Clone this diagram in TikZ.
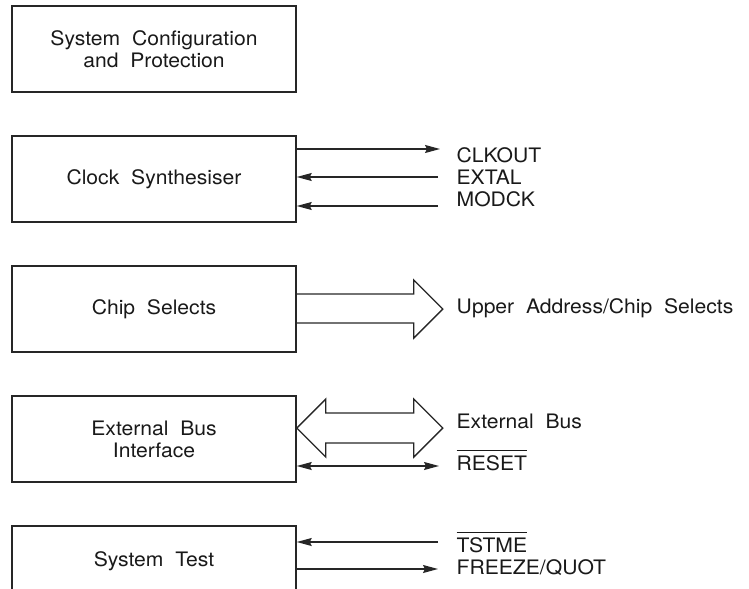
\documentclass[tikz,border=0pt]{standalone}
\usepackage{fontspec}
\setmainfont{TeX Gyre Heros}[WordSpace=2, FakeStretch=1.06]
\usetikzlibrary{arrows.meta}
\usetikzlibrary{positioning,calc}
\tikzset{
	node distance=42.5bp,
	every path/.style = {line width=1.3bp, color=black!85},
	block/.style = {draw, line width=1.5bp, minimum width=284bp, minimum height=86bp,
		align=center, inner sep=0pt, text=black!90, font=\fontsize{20}{22}\selectfont},
	sigtext/.style = {anchor=base west, inner sep=0pt, text=black!90, font=\fontsize{20}{22}\selectfont},
	sig/.style = {-{Stealth[length=15bp,width=8bp,inset=2bp]}},
	sigboth/.style = {{Stealth[length=15bp,width=8bp,inset=2bp]}-{Stealth[length=15bp,width=8bp,inset=2bp]}},
	bus/.style = {line width=1.4bp, line join=miter}
}
\newcommand{\lowact}[1]{$\overline{\rule{0pt}{18.5bp}\mbox{#1}}$}

\begin{document}
\begin{tikzpicture}[x=1bp, y=-1bp]
	\useasboundingbox (0,0) rectangle (749,589);
	% blocks
	\node[block] (config) at (154,49) {System Configuration\\and Protection};
	\node[block, below=of config] (clock) {Clock Synthesiser};
	\node[block, below=of clock] (chipsel) {Chip Selects};
	\node[block, below=of chipsel] (extbus) {External Bus\\Interface};
	\node[block, below=of extbus, text depth=20bp] (systest) {System Test};
	% clock signals
	\coordinate (clkout-end) at (440,149);
	\coordinate (extal-end) at (438,177);
	\coordinate (modck-end) at (438,206);
	\draw[sig] (clkout-end -| clock.east) -- (clkout-end);
	\draw[sig] (extal-end) -- (extal-end -| clock.east);
	\draw[sig] (modck-end) -- (modck-end -| clock.east);
	\node[sigtext] (clkout) at (456,163) {CLKOUT};
	\node[sigtext] (extal) at (456,185) {EXTAL};
	\node[sigtext] (modck) at (456,207) {MODCK};
	% chip selects
	\draw[bus] ($(chipsel.east)+(0,-15)$) -- ++(117,0) -- ++(0,-14)
		-- ($(chipsel.east)+(146,0)$) -- ++(-29,29) -- ++(0,-15)
		-- ($(chipsel.east)+(0,14)$);
	\node[sigtext] (uppaddr) at (456,313) {Upper Address/Chip Selects};
	% external bus
	\coordinate (bus-tip) at ($(extbus.east)+(0,-11)$);
	\draw[bus] (bus-tip) -- ++(29,-29) -- ++(0,14) -- ++(88,0) -- ++(0,-14)
		-- ++(29,29) -- ++(-29,29) -- ++(0,-14) -- ++(-88,0) -- ++(0,14) -- cycle;
	\node[sigtext] (busname) at (456,428) {External Bus};
	\coordinate (reset-end) at (439,466);
	\draw[sigboth] (reset-end -| extbus.east) -- (reset-end);
	\node[sigtext] (reset) at (456,470) {\lowact{RESET}};
	% system test
	\coordinate (tstme-end) at (438,542);
	\coordinate (freeze-end) at (438,569);
	\draw[sig] (tstme-end) -- (tstme-end -| systest.east);
	\draw[sig] (freeze-end -| systest.east) -- (freeze-end);
	\node[sigtext] (tstme) at (456,552) {\lowact{TSTME}};
	\node[sigtext] (freeze) at (456,574) {FREEZE/QUOT};
\end{tikzpicture}
\end{document}
